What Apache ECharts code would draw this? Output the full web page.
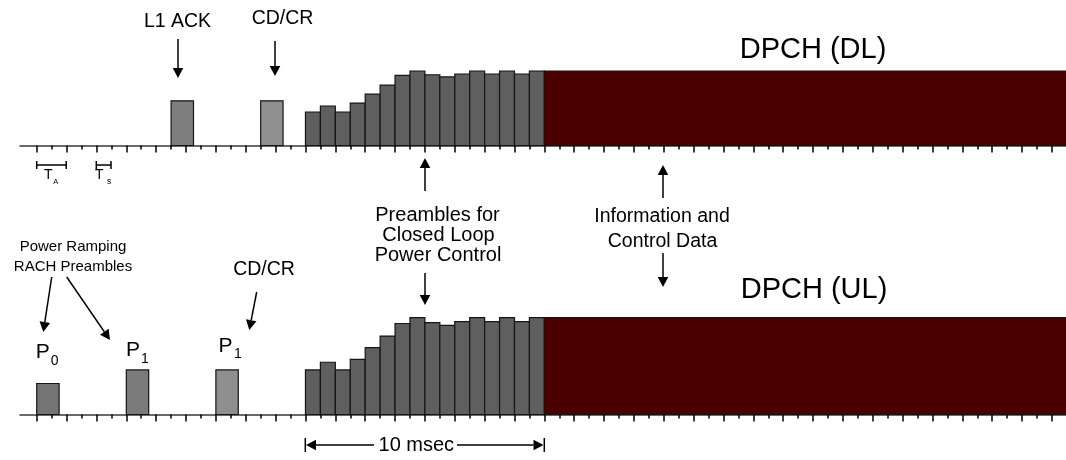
<!DOCTYPE html>
<html>
<head>
<meta charset="utf-8">
<script src="https://cdn.jsdelivr.net/npm/echarts@6/dist/echarts.min.js"></script>
<style>
html,body{margin:0;padding:0;background:#fff;}
#c{width:1066px;height:460px;}
</style>
</head>
<body>
<div id="c"></div>
<script>
// ---- data (time in slot units, power in relative units 0..10) ----
const majorTicks = [0,2,4,6,8,10,12,14,16,18,20,22,24,26,28,30,32,34,36,38,40,42,44,46,48,50,52,54,56,58,60,62,64,66,68];
const minorTicks = [1,3,5,7,9,11,13,15,17,19,21,23,25,27,29,31,33,35,37,39,41,43,45,47,49,51,53,55,57,59,61,63,65,67];
const pulseLen = 1.5;
const dlPulseStart = [9, 15];          // L1 ACK, CD/CR
const dlPulsePower = [6.0, 6.0];
const ulPulseStart = [0, 6, 12];       // P0, P1, P1 (CD/CR)
const ulPulsePower = [3.2, 4.6, 4.6];
const rampStart = 18;                   // 10 msec of closed-loop preambles
const dlRamp = [4.5, 5.3, 4.5, 5.7, 6.9, 8.1, 9.4, 10, 9.5, 9.2, 9.6, 10, 9.6, 10, 9.6, 10];
const ulRamp = [4.6, 5.4, 4.6, 5.7, 6.9, 8.1, 9.4, 10, 9.5, 9.2, 9.6, 10, 9.6, 10, 9.6, 10];
const dpchStart = 34, dpchEnd = 69;
const dpchPower = [10, 10];             // DL, UL

// ---- build ----
const FONT = "'Liberation Sans', Arial, Helvetica, sans-serif";
const dlPulseColors = ['#7f7f7f', '#909090'];
const ulPulseColors = ['#747474', '#7b7b7b', '#8f8f8f'];
const rampColor = '#5f5f5f';
const dpchColor = '#4b0000';

function rectItem(params, api, color) {
  const a = api.coord([api.value(0), 0]);
  const b = api.coord([api.value(1), api.value(2)]);
  return {
    type: 'rect',
    shape: { x: a[0], y: b[1], width: b[0] - a[0], height: a[1] - b[1] },
    style: { fill: color, stroke: '#151515', lineWidth: 1.2 }
  };
}
function pulseSeries(gi, starts, powers, colors) {
  return {
    type: 'custom', xAxisIndex: gi * 2, yAxisIndex: gi, z: 3,
    data: starts.map((s, i) => [s, s + pulseLen, powers[i], i]),
    encode: { x: [0, 1], y: 2 },
    renderItem: (p, api) => rectItem(p, api, colors[api.value(3)])
  };
}
function rampSeries(gi, ramp) {
  return {
    type: 'custom', xAxisIndex: gi * 2, yAxisIndex: gi, z: 3,
    data: ramp.map((v, i) => [rampStart + i, rampStart + i + 1, v]),
    encode: { x: [0, 1], y: 2 },
    renderItem: (p, api) => rectItem(p, api, rampColor)
  };
}
function dpchSeries(gi) {
  return {
    type: 'custom', xAxisIndex: gi * 2, yAxisIndex: gi, z: 3,
    data: [[dpchStart, dpchEnd, dpchPower[gi]]],
    encode: { x: [0, 1], y: 2 },
    renderItem: (p, api) => rectItem(p, api, dpchColor)
  };
}
const XMIN = -1.12, XMAX = 68.94;
function axisPair(gi) {
  return [
    { type: 'value', gridIndex: gi, min: XMIN, max: XMAX, position: 'bottom',
      axisLine: { show: true, lineStyle: { color: '#3a3a3a', width: 1.5 } },
      axisTick: { show: true, length: 7, customValues: majorTicks, lineStyle: { color: '#000', width: 1.5 } },
      axisLabel: { show: false }, splitLine: { show: false } },
    { type: 'value', gridIndex: gi, min: XMIN, max: XMAX, position: 'bottom',
      axisLine: { show: false },
      axisTick: { show: true, length: 4, customValues: minorTicks, lineStyle: { color: '#000', width: 1.5 } },
      axisLabel: { show: false }, splitLine: { show: false } }
  ];
}

// ---- annotations ----
function arrow(x1, y1, x2, y2) {
  const dx = x2 - x1, dy = y2 - y1, L = Math.hypot(dx, dy);
  const ux = dx / L, uy = dy / L, hl = 10, hw = 5.3;
  const bx = x2 - ux * hl, by = y2 - uy * hl;
  return [
    { type: 'line', shape: { x1: x1, y1: y1, x2: bx, y2: by }, style: { stroke: '#000', lineWidth: 1.5 } },
    { type: 'polygon', shape: { points: [[x2, y2], [bx - uy * hw, by + ux * hw], [bx + uy * hw, by - ux * hw]] }, style: { fill: '#000' } }
  ];
}
function txt(t, x, y, size, align) {
  return { type: 'text', x: x, y: y, style: { text: t, fontSize: size, fontFamily: FONT, fill: '#000', align: align || 'center', verticalAlign: 'middle' } };
}
function seg(x1, y1, x2, y2) {
  return { type: 'line', shape: { x1: x1, y1: y1, x2: x2, y2: y2 }, style: { stroke: '#000', lineWidth: 1.5 } };
}

const g = [];
// top labels
g.push(txt('L1 ACK', 177.5, 22, 19.5));
g.push(...arrow(178, 39, 178, 78));
g.push(txt('CD/CR', 282.5, 18.5, 19.5));
g.push(...arrow(275, 41, 275, 76));
g.push(txt('DPCH (DL)', 813, 49.5, 29));
g.push(txt('DPCH (UL)', 814, 289.5, 29));
// T_A / T_s brackets
g.push(seg(36.7, 165, 66.2, 165), seg(36.7, 161, 36.7, 169), seg(66.2, 161, 66.2, 169));
g.push(txt('T', 48.3, 175.5, 14), txt('A', 55.8, 182, 7.5));
g.push(seg(96.3, 165, 111, 165), seg(96.3, 161, 96.3, 169), seg(111, 161, 111, 169));
g.push(txt('T', 99.3, 175.5, 14), txt('s', 109, 182, 8.5));
// middle labels
g.push(...arrow(425, 191, 425, 158));
g.push(txt('Preambles for', 437.5, 215, 20), txt('Closed Loop', 438.5, 235, 20), txt('Power Control', 438, 255, 20));
g.push(...arrow(425, 273, 425, 305));
g.push(...arrow(663, 198, 663, 165));
g.push(txt('Information and', 662, 217, 19.5), txt('Control Data', 662.5, 241.5, 19.5));
g.push(...arrow(663, 253, 663, 287));
// lower labels
g.push(txt('Power Ramping', 73, 247, 15), txt('RACH Preambles', 73, 266.5, 15));
g.push(...arrow(51.7, 277, 43.3, 332));
g.push(...arrow(66.7, 277, 110, 340));
g.push(txt('CD/CR', 264, 270, 19.5));
g.push(...arrow(256.7, 292, 249.3, 330));
g.push(txt('P', 35.7, 352.5, 21, 'left'), txt('0', 50.7, 361, 14, 'left'));
g.push(txt('P', 126, 350, 21, 'left'), txt('1', 141, 359.5, 14, 'left'));
g.push(txt('P', 218.5, 346, 21, 'left'), txt('1', 234, 354.5, 14, 'left'));
// 10 msec
g.push(seg(305.3, 438, 305.3, 452), seg(544.3, 438, 544.3, 452));
g.push(...arrow(374, 445, 306, 445));
g.push(...arrow(457, 445, 543.5, 445));
g.push(txt('10 msec', 416.3, 445, 20));

const chart = echarts.init(document.getElementById('c'), null, { renderer: 'canvas' });
chart.setOption({
  animation: false,
  backgroundColor: '#fff',
  grid: [
    { left: 20, right: 0, top: 71, height: 74.5 },
    { left: 20, right: 0, top: 317.7, height: 96.8 }
  ],
  xAxis: [...axisPair(0), ...axisPair(1)],
  yAxis: [
    { type: 'value', gridIndex: 0, min: 0, max: 10, show: false },
    { type: 'value', gridIndex: 1, min: 0, max: 10, show: false }
  ],
  series: [
    pulseSeries(0, dlPulseStart, dlPulsePower, dlPulseColors),
    rampSeries(0, dlRamp),
    dpchSeries(0),
    pulseSeries(1, ulPulseStart, ulPulsePower, ulPulseColors),
    rampSeries(1, ulRamp),
    dpchSeries(1)
  ],
  graphic: { elements: g }
});
</script>
</body>
</html>
